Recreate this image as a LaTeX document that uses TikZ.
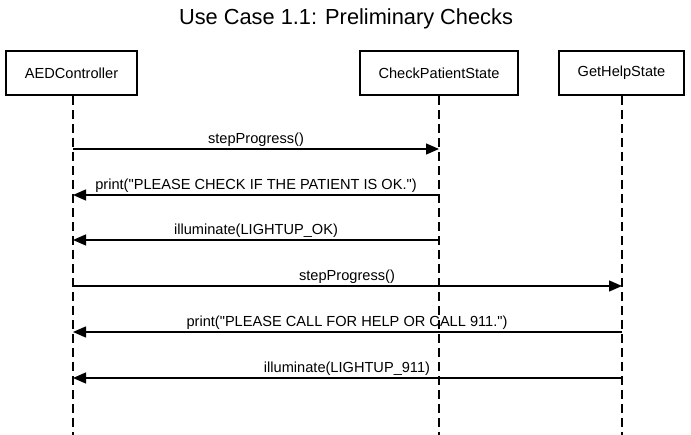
\documentclass[tikz,border=0pt]{standalone}
\usepackage{fontspec}
\setmainfont{Liberation Sans}[Ligatures=TeXOff]
\usetikzlibrary{arrows.meta}
\begin{document}
\begin{tikzpicture}[x=1pt,y=-1pt,
  actor/.style={draw=black,line width=2pt,fill=white,minimum height=44pt,inner sep=0pt,font=\fontsize{14.6}{17}\selectfont},
  lifeline/.style={draw=black,line width=1.3pt,dash pattern=on 9pt off 5pt},
  msg/.style={draw=black,line width=1.3pt,-{Triangle[length=13pt,width=11pt]}},
  msglabel/.style={anchor=base,inner sep=0pt,font=\fontsize{14.6}{17}\selectfont}]
\useasboundingbox (0,0) rectangle (691,435);
\node[font=\fontsize{21.8}{26}\selectfont,anchor=base,inner sep=0pt] (title) at (346,25) {Use Case 1.1: Preliminary Checks};
\node[actor,minimum width=131pt] (aed) at (71.5,73) {AEDController};
\node[actor,minimum width=158pt] (cps) at (439,73) {CheckPatientState};
\node[actor,minimum width=125pt] (ghs) at (621.5,73) {GetHelpState};
\coordinate (aedEnd) at (73,435);
\coordinate (cpsEnd) at (439,435);
\coordinate (ghsEnd) at (622,435);
\coordinate (aedTop) at (aedEnd |- aed.south);
\coordinate (cpsTop) at (cpsEnd |- cps.south);
\coordinate (ghsTop) at (ghsEnd |- ghs.south);
\draw[lifeline] (aedTop) -- (aedEnd);
\draw[lifeline] (cpsTop) -- (cpsEnd);
\draw[lifeline] (ghsTop) -- (ghsEnd);
% messages
\draw[msg] (aedTop |- 0,149) -- (cpsTop |- 0,149);
\node[msglabel] (m1) at (256,144) {stepProgress()};
\draw[msg] (cpsTop |- 0,195) -- (aedTop |- 0,195);
\node[msglabel] (m2) at (256,190) {print("PLEASE CHECK IF THE PATIENT IS OK.")};
\draw[msg] (cpsTop |- 0,240) -- (aedTop |- 0,240);
\node[msglabel] (m3) at (256,235) {illuminate(LIGHTUP\_OK)};
\draw[msg] (aedTop |- 0,286) -- (ghsTop |- 0,286);
\node[msglabel] (m4) at (347,281) {stepProgress()};
\draw[msg] (ghsTop |- 0,332) -- (aedTop |- 0,332);
\node[msglabel] (m5) at (347,327) {print("PLEASE CALL FOR HELP OR CALL 911.")};
\draw[msg] (ghsTop |- 0,378) -- (aedTop |- 0,378);
\node[msglabel] (m6) at (347,373) {illuminate(LIGHTUP\_911)};
\end{tikzpicture}
\end{document}
